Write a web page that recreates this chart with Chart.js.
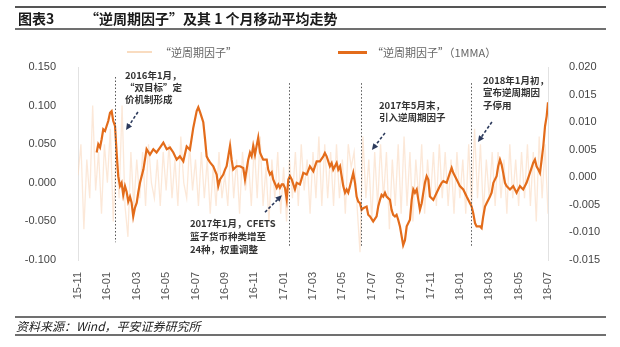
<!DOCTYPE html>
<html lang="zh">
<head>
    <meta charset="UTF-8">
    <title>逆周期因子及其1个月移动平均走势</title>
    <script src="https://cdn.jsdelivr.net/npm/chart.js"></script>
    <style>
        body { margin: 0; background: #fff; font-family: "Noto Sans CJK SC", "Noto Sans", sans-serif; }
        #wrap { position: relative; width: 620px; height: 347px; overflow: hidden; }
        #chart { position: absolute; left: 0; top: 0; }
        .rule { position: absolute; left: 15px; width: 591px; background: #707070; }
        .title { position: absolute; top: 9px; font-size: 14px; font-weight: bold; color: #1a1a1a; line-height: 18px; white-space: nowrap; }
        .legend { position: absolute; top: 44px; font-size: 11px; color: #666; line-height: 16px; white-space: nowrap; }
        .swatch { position: absolute; }
        .source { position: absolute; left: 16px; top: 318px; font-size: 12px; font-style: italic; color: #222; line-height: 16px; white-space: nowrap; }
        .note { position: absolute; font-size: 9.5px; color: #333; white-space: nowrap; font-weight: bold; }
    </style>
</head>
<body>
<div id="wrap">
    <canvas id="chart" width="620" height="347"></canvas>
    <div class="rule" style="top:6px;height:2px;background:#555;"></div>
    <div class="title" style="left:18px;">图表3</div>
    <div class="title" style="left:85px;">“逆周期因子”及其 1 个月移动平均走势</div>
    <div class="rule" style="top:28px;height:1.5px;"></div>

    <div class="swatch" style="left:127px;top:51px;width:25px;height:1.5px;background:#f9dcc0;"></div>
    <div class="legend" style="left:160px;">“逆周期因子”</div>
    <div class="swatch" style="left:338px;top:51px;width:29px;height:3px;background:#e36c1b;"></div>
    <div class="legend" style="left:372px;">“逆周期因子”（1MMA）</div>

    <div class="rule" style="top:316px;height:1.5px;"></div>
    <div class="source">资料来源：Wind，平安证券研究所</div>
    <div class="rule" style="top:334px;height:1.5px;"></div>
</div>
<script>
// x axis = months counted from 2015-11
const tickLabels = ['15-11', '16-01', '16-03', '16-05', '16-07', '16-09', '16-11', '17-01', '17-03',
    '17-05', '17-07', '17-09', '17-11', '18-01', '18-03', '18-05', '18-07'];

// daily factor (left axis), sampled every 0.2 month from 15-11
const lightStep = 0.2;
const lightValues = [
    0.01, 0.05, -0.06, 0.03, -0.02, 0.10, -0.01, 0.04, -0.04, 0.05,
    0.00, 0.07, -0.05, 0.04, -0.02, 0.10, -0.03, -0.07, 0.04, -0.03,
    0.03, -0.02, 0.04, -0.03, 0.05, 0.00, -0.02, 0.03, -0.03, 0.04,
    -0.01, 0.05, -0.02, 0.03, -0.03, 0.06, 0.00, -0.02, 0.05, -0.01,
    0.03, -0.03, 0.04, -0.02, 0.03, -0.04, 0.02, -0.03, 0.04, -0.02,
    0.01, -0.03, 0.05, -0.02, 0.03, -0.04, 0.04, -0.01, 0.03, -0.03,
    0.05, -0.02, 0.06, -0.03, 0.02, -0.05, 0.03, -0.02, 0.04, -0.04,
    0.02, -0.05, 0.03, -0.02, 0.04, -0.03, 0.05, -0.01, 0.03, -0.04,
    0.04, -0.02, 0.06, -0.03, 0.05, -0.02, 0.04, -0.03, 0.05, -0.02,
    0.03, -0.04, 0.05, 0.02, 0.04, -0.03, -0.09, 0.06, -0.02, 0.03,
    -0.05, 0.04, -0.03, 0.05, -0.02, 0.04, -0.06, 0.03, -0.03, 0.05,
    -0.04, 0.06, -0.03, 0.04, -0.05, 0.03, -0.02, 0.05, -0.04, 0.03,
    -0.02, 0.04, -0.03, 0.05, -0.02, 0.04, -0.03, 0.03, -0.04, 0.04,
    -0.02, 0.03, -0.04, 0.05, -0.03, 0.07, -0.02, 0.05, -0.04, 0.03,
    -0.02, 0.04, -0.03, 0.04, -0.02, 0.03, -0.04, 0.05, -0.02, 0.03,
    -0.03, 0.04, -0.02, 0.05, -0.03, 0.04, -0.05, 0.06, -0.02, 0.05,
    -0.04
];

// 1MMA (right axis)
const mmaMonth = [
    1.27, 1.38, 1.50, 1.61, 1.72, 1.84, 1.95, 2.06, 2.18, 2.29, 2.40, 2.52, 2.63, 2.74, 2.86, 2.97,
    3.08, 3.20, 3.31, 3.42, 3.54, 3.65, 3.76, 3.88, 4.00, 4.10, 4.22, 4.45, 4.56, 4.67, 4.90, 5.13,
    5.35, 5.58, 5.81, 6.04, 6.26, 6.49, 6.72, 6.94, 7.17, 7.40, 7.62, 7.85, 8.08, 8.19, 8.31, 8.42,
    8.53, 8.65, 8.76, 8.87, 8.99, 9.21, 9.44, 9.55, 9.67, 9.89, 10.01, 10.12, 10.23, 10.35, 10.46, 10.57,
    10.80, 11.03, 11.25, 11.37, 11.48, 11.59, 11.71, 11.82, 11.93, 12.05, 12.16, 12.27, 12.39, 12.50, 12.61, 12.85,
    12.95, 13.07, 13.19, 13.29, 13.53, 13.64, 13.75, 13.87, 13.98, 14.09, 14.21, 14.32, 14.43, 14.55, 14.66, 14.77,
    14.89, 15.11, 15.34, 15.57, 15.79, 16.02, 16.25, 16.47, 16.70, 16.81, 16.93, 17.15, 17.27, 17.38, 17.61, 17.72,
    17.84, 17.95, 18.06, 18.18, 18.29, 18.40, 18.52, 18.63, 18.74, 18.86, 18.97, 19.08, 19.20, 19.31, 19.42, 19.65,
    19.76, 19.88, 20.10, 20.33, 20.44, 20.56, 20.67, 20.78, 20.90, 21.01, 21.24, 21.35, 21.46, 21.58, 21.69, 21.80,
    21.92, 22.14, 22.26, 22.38, 22.60, 22.72, 22.83, 22.94, 23.06, 23.28, 23.40, 23.51, 23.62, 23.74, 23.85, 23.96,
    24.19, 24.42, 24.64, 24.76, 24.87, 25.10, 25.32, 25.44, 25.55, 25.78, 26.00, 26.23, 26.46, 26.69, 26.80, 26.91,
    27.03, 27.14, 27.37, 27.48, 27.59, 27.71, 27.82, 28.05, 28.16, 28.28, 28.50, 28.61, 28.73, 28.84, 28.95, 29.07,
    29.18, 29.41, 29.63, 29.86, 30.09, 30.31, 30.54, 30.77, 30.99, 31.11, 31.22, 31.34, 31.45, 31.57, 31.68, 31.80,
    31.91, 32.00
];
const mmaValue = [
    0.0045, 0.0060, 0.0054, 0.0069, 0.0087, 0.0084, 0.0093, 0.0102, 0.0117, 0.0120, 0.0102, 0.0093, 0.0045, 0.0002, -0.0016, -0.0010,
    -0.0032, -0.0016, -0.0026, -0.0044, -0.0035, -0.0046, -0.0071, -0.0055, -0.0046, -0.0028, -0.0010, 0.0014, 0.0032, 0.0051, 0.0041, 0.0051,
    0.0045, 0.0054, 0.0063, 0.0051, 0.0054, 0.0045, 0.0032, 0.0038, 0.0029, 0.0056, 0.0050, 0.0090, 0.0120, 0.0127, 0.0118, 0.0109,
    0.0100, 0.0069, 0.0038, 0.0032, 0.0027, 0.0020, 0.0005, -0.0016, -0.0004, 0.0005, 0.0014, 0.0020, 0.0038, 0.0057, 0.0032, 0.0014,
    0.0020, 0.0020, 0.0017, -0.0004, 0.0014, 0.0032, 0.0045, 0.0038, 0.0057, 0.0041, 0.0057, 0.0072, 0.0045, 0.0038, 0.0032, 0.0032,
    0.0014, 0.0005, 0.0009, -0.0004, -0.0019, -0.0013, -0.0019, -0.0013, -0.0013, -0.0019, -0.0040, -0.0004, 0.0002, -0.0004, -0.0013, -0.0022,
    -0.0010, -0.0013, 0.0008, 0.0005, 0.0020, 0.0011, 0.0029, 0.0029, 0.0038, 0.0044, 0.0038, 0.0020, 0.0026, 0.0014, 0.0026, 0.0014,
    0.0020, 0.0002, -0.0016, -0.0028, -0.0022, -0.0028, -0.0016, -0.0004, 0.0008, -0.0010, -0.0035, -0.0044, -0.0047, -0.0059, -0.0056, -0.0053,
    -0.0068, -0.0071, -0.0080, -0.0071, -0.0053, -0.0041, -0.0032, -0.0035, -0.0028, -0.0035, -0.0041, -0.0059, -0.0068, -0.0071, -0.0068, -0.0077,
    -0.0089, -0.0123, -0.0114, -0.0089, -0.0077, -0.0041, -0.0022, -0.0028, -0.0022, -0.0059, -0.0047, -0.0028, -0.0010, 0.0002, -0.0004, -0.0035,
    -0.0041, -0.0028, -0.0016, -0.0010, -0.0007, -0.0010, 0.0008, 0.0017, 0.0008, -0.0004, -0.0016, -0.0022, -0.0035, -0.0047, -0.0053, -0.0065,
    -0.0083, -0.0089, -0.0089, -0.0092, -0.0071, -0.0053, -0.0047, -0.0035, -0.0028, -0.0010, 0.0002, 0.0020, 0.0032, 0.0023, 0.0008, -0.0010,
    -0.0016, -0.0022, -0.0016, -0.0028, -0.0016, -0.0022, -0.0010, 0.0008, 0.0026, 0.0032, 0.0020, 0.0014, 0.0008, 0.0032, 0.0057, 0.0093,
    0.0111, 0.0136
];

// policy events: dotted line month, top / bottom on the left axis
const eventMonth = [2.52, 14.36, 19.24, 26.73];
const eventTop = [0.137, 0.129, 0.129, 0.129];
const eventBottom = [-0.077, -0.083, -0.083, -0.083];

// annotation text, anchored in (month, left-axis value)
const notes = [
    { m: 3.20, v: 0.1396, lh: 12.2, lines: ['2016年1月，', '“双目标”定', '价机制形成'] },
    { m: 7.62, v: -0.0521, lh: 13, lines: ['2017年1月，CFETS', '篮子货币种类增至', '24种，权重调整'] },
    { m: 20.49, v: 0.1008, lh: 12, lines: ['2017年5月末，', '引入逆周期因子'] },
    { m: 27.57, v: 0.1332, lh: 12.5, lines: ['2018年1月初，', '宣布逆周期因', '子停用'] }
];
// dashed arrows: from -> to (head at "to")
const arrows = [
    [4.08, 0.0917, 3.27, 0.0684],
    [12.73, -0.0381, 13.88, -0.0161],
    [20.90, 0.0645, 20.01, 0.0425],
    [28.18, 0.0788, 27.23, 0.0528]
];

const lightData = lightValues.map((v, i) => ({ x: i * lightStep, y: v }));
const mmaData = mmaMonth.map((m, i) => ({ x: m, y: mmaValue[i] }));

const eventPlugin = {
    id: 'events',
    afterDatasetsDraw(chart) {
        const ctx = chart.ctx;
        const xs = chart.scales.x, ys = chart.scales.yL;
        ctx.save();
        // dotted vertical lines
        ctx.strokeStyle = '#555';
        ctx.lineWidth = 1;
        ctx.setLineDash([1.5, 2]);
        eventMonth.forEach((m, i) => {
            const x = Math.round(xs.getPixelForValue(m)) + 0.5;
            ctx.beginPath();
            ctx.moveTo(x, ys.getPixelForValue(eventTop[i]));
            ctx.lineTo(x, ys.getPixelForValue(eventBottom[i]));
            ctx.stroke();
        });
        // arrows
        ctx.strokeStyle = '#2c3a5c';
        ctx.fillStyle = '#2c3a5c';
        ctx.lineWidth = 1.6;
        arrows.forEach(a => {
            const x1 = xs.getPixelForValue(a[0]), y1 = ys.getPixelForValue(a[1]);
            const x2 = xs.getPixelForValue(a[2]), y2 = ys.getPixelForValue(a[3]);
            const ang = Math.atan2(y2 - y1, x2 - x1);
            const head = 7;
            ctx.setLineDash([3, 2]);
            ctx.beginPath();
            ctx.moveTo(x1, y1);
            ctx.lineTo(x2 - Math.cos(ang) * head * 0.8, y2 - Math.sin(ang) * head * 0.8);
            ctx.stroke();
            ctx.setLineDash([]);
            ctx.beginPath();
            ctx.moveTo(x2, y2);
            ctx.lineTo(x2 - head * Math.cos(ang - 0.45), y2 - head * Math.sin(ang - 0.45));
            ctx.lineTo(x2 - head * Math.cos(ang + 0.45), y2 - head * Math.sin(ang + 0.45));
            ctx.closePath();
            ctx.fill();
        });
        ctx.restore();
    }
};

const tickFont = { family: '"Liberation Sans", Arial, sans-serif', size: 11 };

const chart = new Chart(document.getElementById('chart'), {
    type: 'line',
    data: {
        datasets: [
            {
                label: '“逆周期因子”（1MMA）',
                data: mmaData,
                yAxisID: 'yR',
                borderColor: '#e36c1b',
                borderWidth: 2.2,
                pointRadius: 0,
                order: 0
            },
            {
                label: '“逆周期因子”',
                data: lightData,
                yAxisID: 'yL',
                borderColor: 'rgba(249,214,184,0.55)',
                borderWidth: 1.3,
                pointRadius: 0,
                order: 1
            }
        ]
    },
    options: {
        responsive: false,
        devicePixelRatio: 1,
        animation: false,
        layout: { padding: { top: 67, bottom: 0, left: 0, right: 0 } },
        plugins: {
            legend: { display: false },
            tooltip: { enabled: false }
        },
        scales: {
            x: {
                type: 'linear',
                min: 0,
                max: 32,
                grid: { display: false },
                border: { display: false },
                ticks: {
                    stepSize: 2,
                    autoSkip: false,
                    maxRotation: 90,
                    minRotation: 90,
                    padding: 4,
                    color: '#555',
                    font: tickFont,
                    callback: v => tickLabels[v / 2]
                },
                afterFit: s => { s.height = 87; }
            },
            yL: {
                position: 'left',
                min: -0.1,
                max: 0.15,
                grid: { display: false },
                border: { display: true, color: '#e2e2e2' },
                ticks: {
                    stepSize: 0.05,
                    padding: 14,
                    color: '#444',
                    font: tickFont,
                    callback: v => v.toFixed(3)
                },
                afterFit: s => { s.width = 78; }
            },
            yR: {
                position: 'right',
                min: -0.015,
                max: 0.02,
                grid: { display: false },
                border: { display: true, color: '#e2e2e2' },
                ticks: {
                    stepSize: 0.005,
                    padding: 13,
                    color: '#444',
                    font: tickFont,
                    callback: v => v.toFixed(3)
                },
                afterFit: s => { s.width = 72; }
            }
        }
    },
    plugins: [eventPlugin]
});

// annotation text as html, placed through the chart scales
const wrap = document.getElementById('wrap');
notes.forEach(n => {
    const x = chart.scales.x.getPixelForValue(n.m);
    const y = chart.scales.yL.getPixelForValue(n.v);
    const div = document.createElement('div');
    div.className = 'note';
    div.style.left = x + 'px';
    div.style.top = (y - n.lh / 2) + 'px';
    div.style.lineHeight = n.lh + 'px';
    div.innerHTML = n.lines.join('<br>');
    wrap.appendChild(div);
});
</script>
</body>
</html>
